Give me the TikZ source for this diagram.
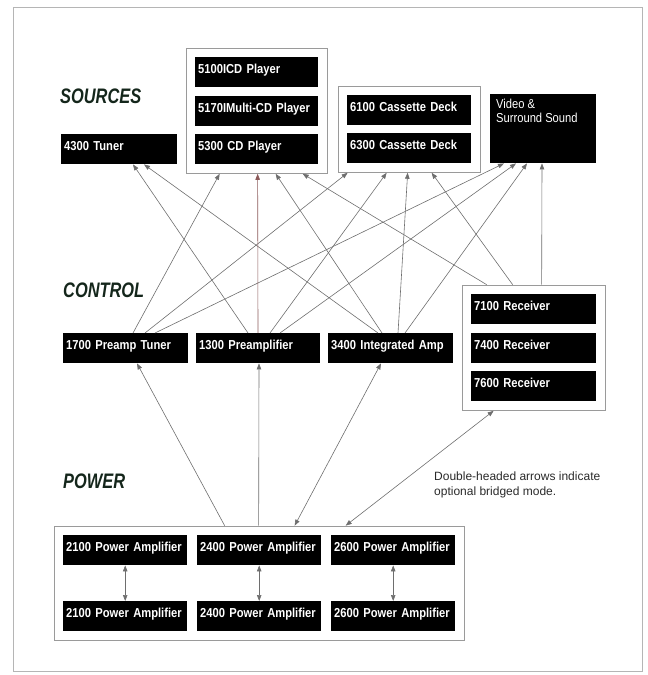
\documentclass[tikz,border=0pt]{standalone}
\usepackage{fontspec}
\setmainfont{Liberation Sans}
\newfontfamily\boxfont[FakeStretch=0.86]{Liberation Sans}
\newfontfamily\headfont[FakeStretch=0.78]{Liberation Sans}
\usetikzlibrary{arrows.meta,fit}

\definecolor{framegray}{HTML}{B5B5B5}
\definecolor{grouplinegray}{HTML}{9A9A9A}
\definecolor{linkgray}{HTML}{6E6E6E}
\definecolor{linkred}{HTML}{8C5A5A}
\definecolor{headgreen}{HTML}{14261B}
\definecolor{notegray}{HTML}{2A2A2A}

\begin{document}
\begin{tikzpicture}[x=1pt,y=-1pt,
		unit/.style={fill=black,text=white,anchor=north west,inner xsep=3pt,inner ysep=0pt,
			minimum height=30pt,text width=#1,text height=9.5pt,text depth=6pt,align=left,
			font=\boxfont\bfseries\fontsize{13}{13}\selectfont},
		unit/.default=118pt,
		vidtext/.style={anchor=north west,text=white,align=left,inner xsep=6pt,inner ysep=5pt,
			font=\boxfont\fontsize{13}{14}\selectfont},
		group/.style={draw=grouplinegray,line width=0.7pt,inner sep=9pt},
		head/.style={anchor=west,inner sep=0pt,text=headgreen,
			font=\headfont\bfseries\itshape\fontsize{21}{21}\selectfont},
		note/.style={anchor=north west,align=left,inner sep=0pt,text=notegray,
			font=\fontsize{12}{15}\selectfont},
		link/.style={draw=linkgray,line width=0.6pt,-{Triangle[length=6pt,width=4.5pt]}},
		bilink/.style={link,{Triangle[length=6pt,width=4.5pt]}-{Triangle[length=6pt,width=4.5pt]}}]
		
		\useasboundingbox (0,0) rectangle (648,675);
		\draw[framegray,line width=0.6pt] (13,7) rectangle (642,671);
		
		\node[head] (sources) at (60,96) {SOURCES};
		\node[head] (control) at (63,290) {CONTROL};
		\node[head] (power) at (63,481) {POWER};
		
		% sources
		\node[unit=110pt] (tuner) at (61,134) {4300 Tuner};
		\node[unit=117pt] (cd1) at (195,57) {5100ICD Player};
		\node[unit=117pt] (cd2) at (195,95.5) {5170IMulti-CD Player};
		\node[unit=117pt] (cd3) at (195,134) {5300 CD Player};
		\node[group,fit=(cd1)(cd3)] (cdgrp) {};
		\node[unit] (cas1) at (347,95) {6100 Cassette Deck};
		\node[unit] (cas2) at (347,133) {6300 Cassette Deck};
		\node[group,fit=(cas1)(cas2)] (casgrp) {};
		\node[unit=100pt,minimum height=69pt,
			label={[vidtext]north west:{Video \&\\Surround Sound}}] (video) at (490,94) {};
		
		% control
		\node[unit=119pt] (pretuner) at (63,333) {1700 Preamp Tuner};
		\node[unit] (preamp) at (196,333) {1300 Preamplifier};
		\node[unit=119pt] (intamp) at (328,333) {3400 Integrated Amp};
		\node[unit=119pt] (rec1) at (471,294) {7100 Receiver};
		\node[unit=119pt] (rec2) at (471,333) {7400 Receiver};
		\node[unit=119pt] (rec3) at (471,371) {7600 Receiver};
		\node[group,fit=(rec1)(rec3)] (recgrp) {};
		
		% power
		\foreach \n/\x in {2100/63,2400/197,2600/331} {
			\node[unit] (up\n) at (\x,535) {\n\ Power Amplifier};
			\node[unit] (lo\n) at (\x,601) {\n\ Power Amplifier};
			\draw[bilink] (up\n) -- (lo\n);
		}
		\node[group,fit=(up2100)(lo2600)] (powgrp) {};
		
		\node[note] (bridgenote) at (434,472) {Double-headed arrows indicate\\optional bridged mode.};
		
		% control -> sources
		\foreach \s/\sx/\t/\tx in {pretuner/70/cdgrp/34, pretuner/82/casgrp/10, pretuner/92/video/14,
			preamp/52/tuner/72, preamp/74/casgrp/49, preamp/84/video/26,
			intamp/50/tuner/83, intamp/54/cdgrp/90, intamp/70/casgrp/70, intamp/77/video/37,
			recgrp/25/cdgrp/117, recgrp/51/casgrp/94, recgrp/80/video/52}
		\draw[link] ([xshift=\sx pt]\s.north west) -- ([xshift=\tx pt]\t.south west);
		\draw[link,draw=linkred] ([xshift=62pt]preamp.north west) -- ([xshift=72pt]cdgrp.south west);
		
		% power -> control
		\draw[link] ([xshift=171pt]powgrp.north west) -- ([xshift=74pt]pretuner.south west);
		\draw[link] ([xshift=205pt]powgrp.north west) -- ([xshift=63pt]preamp.south west);
		\draw[bilink] ([xshift=53pt]intamp.south west) -- ([xshift=241pt]powgrp.north west);
		\draw[bilink] ([xshift=32pt]recgrp.south west) -- ([xshift=292pt]powgrp.north west);
	\end{tikzpicture}
\end{document}
